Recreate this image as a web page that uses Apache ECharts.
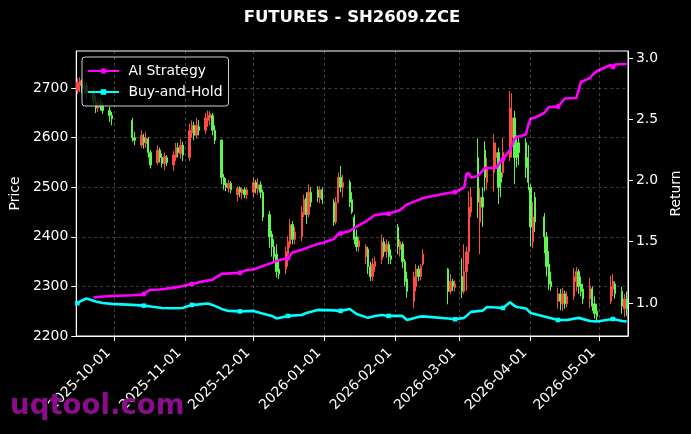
<!DOCTYPE html>
<html><head><meta charset="utf-8">
<script src="https://cdn.jsdelivr.net/npm/echarts@6/dist/echarts.min.js"></script>
<style>html,body{margin:0;padding:0;background:#000;}#c{width:691px;height:434px;}</style>
</head><body><div id="c"></div>
<script>
// ---- data ----
const tradeDates = [
'2025-09-15','2025-09-16','2025-09-17','2025-09-18','2025-09-19','2025-09-22','2025-09-23','2025-09-24','2025-09-25','2025-09-26','2025-09-29','2025-09-30',
'2025-10-09','2025-10-10','2025-10-13','2025-10-14','2025-10-15','2025-10-16','2025-10-17','2025-10-20','2025-10-21','2025-10-22','2025-10-23','2025-10-24','2025-10-27','2025-10-28','2025-10-29','2025-10-30','2025-10-31',
'2025-11-03','2025-11-04','2025-11-05','2025-11-06','2025-11-07','2025-11-10','2025-11-11','2025-11-12','2025-11-13','2025-11-14','2025-11-17','2025-11-18','2025-11-19','2025-11-20','2025-11-21','2025-11-24','2025-11-25','2025-11-26','2025-11-27','2025-11-28',
'2025-12-01','2025-12-02','2025-12-03','2025-12-04','2025-12-05','2025-12-08','2025-12-09','2025-12-10','2025-12-11','2025-12-12','2025-12-15','2025-12-16','2025-12-17','2025-12-18','2025-12-19','2025-12-22','2025-12-23','2025-12-24','2025-12-25','2025-12-26','2025-12-29','2025-12-30','2025-12-31',
'2026-01-05','2026-01-06','2026-01-07','2026-01-08','2026-01-09','2026-01-12','2026-01-13','2026-01-14','2026-01-15','2026-01-16','2026-01-19','2026-01-20','2026-01-21','2026-01-22','2026-01-23','2026-01-26','2026-01-27','2026-01-28','2026-01-29','2026-01-30',
'2026-02-02','2026-02-03','2026-02-04','2026-02-05','2026-02-06','2026-02-09','2026-02-10','2026-02-11','2026-02-12','2026-02-13','2026-02-24','2026-02-25','2026-02-26','2026-02-27',
'2026-03-02','2026-03-03','2026-03-04','2026-03-05','2026-03-06','2026-03-09','2026-03-10','2026-03-11','2026-03-12','2026-03-13','2026-03-16','2026-03-17','2026-03-18','2026-03-19','2026-03-20','2026-03-23','2026-03-24','2026-03-25','2026-03-26','2026-03-27','2026-03-30','2026-03-31',
'2026-04-01','2026-04-02','2026-04-03','2026-04-07','2026-04-08','2026-04-09','2026-04-10','2026-04-13','2026-04-14','2026-04-15','2026-04-16','2026-04-17','2026-04-20','2026-04-21','2026-04-22','2026-04-23','2026-04-24','2026-04-27','2026-04-28','2026-04-29','2026-04-30',
'2026-05-06','2026-05-07','2026-05-08','2026-05-11','2026-05-12','2026-05-13'];

const opens = [
2695,2705,2712,2700,2705,2690,2672,2660,2670,2665,2655,2645,
2635,2600,2585,2600,2588,2598,2570,2550,2575,2560,2548,2560,2545,2560,2580,2568,2585,
2560,2610,2625,2605,2622,2615,2635,2640,2645,2615,2595,2520,2508,2498,2508,2485,2498,2488,2495,2485,
2490,2510,2495,2505,2490,2445,2405,2380,2365,2335,2335,2365,2385,2425,2395,2400,2445,2478,2445,2490,2495,2478,2495,
2470,2430,2470,2520,2500,2510,2475,2440,2400,2380,2360,2375,2340,2320,2340,2355,2390,2370,2385,2362,
2420,2375,2385,2350,2315,2270,2300,2335,2320,2345,2335,2290,2310,2298,
2320,2290,2330,2370,2450,2560,2430,2480,2575,2510,2530,2560,2570,2530,2530,2560,2600,2640,2590,2590,2590,2560,
2500,2390,2480,2440,2400,2345,2310,2270,2285,2265,2285,2265,2280,2310,2330,2305,2295,2275,2295,2265,2250,
2270,2295,2305,2290,2255,2275];
const closes = [
2712,2715,2700,2705,2690,2675,2660,2672,2662,2655,2645,2638,
2600,2595,2605,2590,2600,2570,2545,2575,2560,2548,2562,2550,2565,2580,2570,2585,2565,
2615,2625,2605,2625,2615,2640,2645,2648,2615,2595,2520,2505,2500,2508,2495,2498,2490,2496,2485,2495,
2510,2498,2505,2490,2440,2400,2380,2360,2330,2325,2370,2390,2425,2395,2410,2450,2475,2445,2490,2470,2480,2495,2475,
2430,2470,2520,2500,2510,2470,2450,2395,2380,2392,2380,2340,2320,2345,2350,2390,2370,2385,2360,2355,
2380,2390,2350,2310,2290,2320,2335,2320,2340,2365,2290,2310,2300,2305,
2290,2330,2370,2460,2480,2470,2480,2460,2520,2540,2590,2570,2500,2510,2570,2660,2640,2560,2560,2570,2540,2510,
2420,2440,2430,2400,2340,2305,2300,2285,2270,2285,2265,2280,2320,2330,2300,2290,2275,2300,2260,2245,2240,
2300,2310,2285,2260,2275,2255];
const lows = [
2688,2692,2690,2688,2680,2668,2650,2652,2655,2648,2632,2625,
2592,2585,2580,2578,2580,2560,2538,2545,2550,2540,2535,2543,2533,2553,2560,2558,2553,
2553,2600,2595,2598,2605,2608,2622,2625,2605,2587,2506,2495,2492,2490,2488,2472,2480,2476,2478,2476,
2480,2488,2485,2478,2432,2378,2360,2350,2318,2315,2325,2340,2378,2385,2385,2391,2440,2426,2440,2460,2470,2468,2466,
2422,2425,2468,2490,2480,2460,2446,2385,2371,2370,2345,2325,2311,2311,2330,2345,2360,2358,2345,2345,
2365,2360,2337,2300,2277,2256,2290,2311,2312,2341,2264,2285,2291,2290,
2277,2285,2291,2345,2440,2438,2365,2420,2492,2495,2492,2540,2466,2480,2520,2553,2560,2506,2540,2545,2519,2494,
2380,2377,2410,2367,2320,2293,2291,2255,2252,2250,2255,2258,2273,2290,2285,2280,2265,2256,2250,2235,2230,
2264,2280,2275,2245,2238,2240];
const highs = [
2720,2722,2718,2715,2712,2700,2685,2680,2678,2672,2662,2652,
2640,2612,2615,2608,2612,2602,2575,2585,2580,2568,2570,2565,2573,2590,2590,2597,2592,
2628,2635,2632,2640,2636,2650,2655,2654,2650,2625,2597,2527,2518,2515,2512,2502,2502,2500,2500,2500,
2520,2515,2518,2512,2495,2452,2412,2395,2385,2355,2380,2401,2436,2432,2420,2462,2485,2490,2506,2500,2502,2502,2500,
2476,2480,2530,2543,2525,2515,2490,2445,2415,2400,2385,2380,2350,2357,2360,2405,2398,2395,2391,2375,
2426,2395,2390,2355,2330,2330,2345,2342,2345,2375,2337,2325,2315,2312,
2357,2385,2380,2492,2500,2599,2498,2500,2593,2560,2607,2590,2580,2553,2600,2694,2690,2654,2605,2600,2599,2585,
2506,2470,2490,2448,2410,2371,2330,2297,2295,2297,2292,2290,2337,2339,2335,2320,2305,2317,2300,2280,2265,
2321,2325,2310,2299,2285,2290];

const aiDates = ['2025-09-22','2025-09-25','2025-09-30','2025-10-09','2025-10-13','2025-10-14','2025-10-16','2025-10-17','2025-10-21','2025-10-28','2025-10-31',
'2025-11-03','2025-11-04','2025-11-10','2025-11-13','2025-11-17','2025-11-25','2025-11-28','2025-12-01','2025-12-05','2025-12-09','2025-12-11','2025-12-15','2025-12-16','2025-12-18','2025-12-23','2025-12-29','2025-12-31',
'2026-01-05','2026-01-07','2026-01-08','2026-01-12','2026-01-14','2026-01-19','2026-01-23','2026-01-27','2026-01-29','2026-02-03','2026-02-06','2026-02-10','2026-02-13','2026-02-24','2026-02-27',
'2026-03-02','2026-03-03','2026-03-04','2026-03-05','2026-03-06','2026-03-09','2026-03-11','2026-03-12','2026-03-17','2026-03-19','2026-03-20','2026-03-23','2026-03-25','2026-03-26','2026-03-30','2026-03-31',
'2026-04-01','2026-04-02','2026-04-03','2026-04-07','2026-04-09','2026-04-13','2026-04-16','2026-04-21','2026-04-23','2026-04-27','2026-04-28','2026-04-30',
'2026-05-06','2026-05-07','2026-05-08','2026-05-13'];
const aiValues = [1.045,1.05,1.057,1.063,1.068,1.073,1.10,1.106,1.11,1.127,1.138,
1.151,1.155,1.18,1.19,1.237,1.247,1.27,1.273,1.302,1.327,1.343,1.363,1.367,1.412,1.441,1.482,1.49,
1.522,1.563,1.566,1.588,1.612,1.665,1.718,1.727,1.729,1.759,1.804,1.833,1.857,1.898,1.906,
1.931,1.943,2.053,2.061,2.024,2.037,2.078,2.102,2.102,2.159,2.176,2.249,2.339,2.355,2.376,2.453,
2.502,2.51,2.514,2.551,2.60,2.604,2.669,2.673,2.804,2.837,2.861,2.894,
2.943,2.927,2.947,2.951];

const bhDates = ['2025-09-15','2025-09-17','2025-09-19','2025-09-23','2025-09-26','2025-09-30','2025-10-09','2025-10-14','2025-10-17','2025-10-22','2025-10-27','2025-10-31',
'2025-11-04','2025-11-07','2025-11-11','2025-11-13','2025-11-17','2025-11-20','2025-11-25','2025-12-01','2025-12-04','2025-12-09','2025-12-11','2025-12-16','2025-12-22','2025-12-24','2025-12-29',
'2026-01-05','2026-01-08','2026-01-12','2026-01-15','2026-01-20','2026-01-23','2026-01-26','2026-01-29','2026-02-04','2026-02-06','2026-02-11','2026-02-13','2026-02-24','2026-02-27',
'2026-03-03','2026-03-06','2026-03-11','2026-03-13','2026-03-17','2026-03-20','2026-03-23','2026-03-25','2026-03-26','2026-03-30',
'2026-04-01','2026-04-07','2026-04-13','2026-04-17','2026-04-22','2026-04-27','2026-04-30','2026-05-07','2026-05-11','2026-05-13'];
const bhValues = [0.998,1.02,1.037,1.012,1.0,0.992,0.984,0.978,0.971,0.959,0.957,0.959,
0.984,0.988,0.996,0.984,0.951,0.935,0.931,0.935,0.918,0.894,0.873,0.894,0.902,0.918,0.943,
0.939,0.935,0.951,0.91,0.878,0.894,0.902,0.894,0.894,0.861,0.886,0.89,0.873,0.867,
0.878,0.927,0.937,0.967,0.963,0.959,1.006,0.976,0.967,0.955,
0.918,0.89,0.861,0.861,0.878,0.853,0.849,0.869,0.853,0.849];

const markerDates = ['2025-09-15','2025-10-14','2025-11-04','2025-11-25','2025-12-16','2026-01-08','2026-01-29','2026-02-27','2026-03-20','2026-04-13','2026-05-07'];
const monthTicks = ['2025-10-01','2025-11-01','2025-12-01','2026-01-01','2026-02-01','2026-03-01','2026-04-01','2026-05-01'];
const priceTicks = [2200,2300,2400,2500,2600,2700];
const returnTicks = [1.0,1.5,2.0,2.5,3.0];

// ---- helpers ----
const ts = s => { const p = s.split('-').map(Number); return Date.UTC(p[0], p[1]-1, p[2]); };
const HOUR = 3600000;
const xMin = ts('2025-09-14') + 12*HOUR;
const xMax = ts('2026-05-13') + 14*HOUR;
const fmtDate = v => { const d = new Date(v); return d.getUTCFullYear() + '-' + String(d.getUTCMonth()+1).padStart(2,'0') + '-' + String(d.getUTCDate()).padStart(2,'0'); };
const candleData = tradeDates.map((d,i) => [ts(d), opens[i], closes[i], lows[i], highs[i]]);
const lineData = (dates, vals, sym, size) => dates.map((d,i) => ({
  value: [ts(d), vals[i]],
  symbol: markerDates.indexOf(d) >= 0 ? sym : 'none',
  symbolSize: size
}));

const FONT = 'DejaVu Sans';
const RED = '#ff4c42', GREEN = '#5cf552';
const GRID = 'rgba(255,255,255,0.3)';
const chart = echarts.init(document.getElementById('c'), null, {renderer: 'canvas'});
chart.setOption({
  backgroundColor: '#000',
  animation: false,
  textStyle: {fontFamily: FONT},
  title: {text: 'FUTURES - SH2609.ZCE', left: 352, top: 9, textAlign: 'center', padding: 0,
    textStyle: {color: '#fff', fontSize: 16.5, fontWeight: 'bold', fontFamily: FONT}},
  legend: {
    data: ['AI Strategy', 'Buy-and-Hold'], orient: 'vertical', left: 82, top: 57,
    padding: [6, 6, 6, 5], itemGap: 5, itemWidth: 31, itemHeight: 7,
    backgroundColor: 'rgba(0,0,0,0.8)', borderColor: '#cccccc', borderWidth: 1, borderRadius: 3,
    textStyle: {color: '#fff', fontSize: 13.9, lineHeight: 16, fontFamily: FONT},
    formatter: n => ' ' + n
  },
  grid: {left: 75, right: 61, top: 51, bottom: 98, show: true, borderColor: '#fff', borderWidth: 1},
  xAxis: {
    type: 'value', min: xMin, max: xMax, scale: true,
    axisLine: {show: true, lineStyle: {color: '#fff'}},
    axisTick: {show: true, length: 5, lineStyle: {color: '#fff'}, customValues: monthTicks.map(ts)},
    axisLabel: {color: '#fff', fontSize: 13.9, rotate: 45, margin: 9, padding: [0, 8, 0, 0],
      customValues: monthTicks.map(ts), formatter: fmtDate, fontFamily: FONT},
    splitLine: {show: false}
  },
  yAxis: [{
    type: 'value', min: 2200, max: 2775, interval: 100, position: 'left',
    name: 'Price', nameLocation: 'middle', nameGap: 48, nameRotate: 90,
    nameTextStyle: {color: '#fff', fontSize: 13.9, fontFamily: FONT},
    axisLine: {show: true, lineStyle: {color: '#fff'}},
    axisTick: {show: true, length: 5, lineStyle: {color: '#fff'}, customValues: priceTicks},
    axisLabel: {color: '#fff', fontSize: 13.9, margin: 8, customValues: priceTicks, formatter: v => String(v), fontFamily: FONT},
    splitLine: {show: true, lineStyle: {color: GRID, type: [3, 3], width: 0.8}}
  }, {
    type: 'value', min: 0.73, max: 3.057, position: 'right',
    name: 'Return', nameLocation: 'middle', nameGap: 38, nameRotate: 90,
    nameTextStyle: {color: '#fff', fontSize: 13.9, fontFamily: FONT},
    axisLine: {show: true, lineStyle: {color: '#fff'}},
    axisTick: {show: true, length: 5, lineStyle: {color: '#fff'}, customValues: returnTicks},
    axisLabel: {color: '#fff', fontSize: 13.9, margin: 8, customValues: returnTicks, formatter: v => v.toFixed(1), fontFamily: FONT},
    splitLine: {show: false}
  }],
  series: [{
    type: 'candlestick', name: 'Price', xAxisIndex: 0, yAxisIndex: 0,
    data: candleData, encode: {x: 0, y: [1, 2, 3, 4]},
    barWidth: 1.8,
    itemStyle: {color: RED, color0: GREEN, borderColor: RED, borderColor0: GREEN, borderWidth: 1},
    markLine: {silent: true, symbol: ['none', 'none'], label: {show: false},
      lineStyle: {color: GRID, type: [3, 3], width: 0.8},
      emphasis: {disabled: true},
      data: monthTicks.map(d => ({xAxis: ts(d)}))},
    z: 2
  }, {
    type: 'line', name: 'AI Strategy', xAxisIndex: 0, yAxisIndex: 1,
    data: lineData(aiDates, aiValues, 'circle', 5),
    symbol: 'circle', symbolSize: 5, showSymbol: true,
    lineStyle: {color: '#ff00ff', width: 2.6}, itemStyle: {color: '#ff00ff'}, z: 4
  }, {
    type: 'line', name: 'Buy-and-Hold', xAxisIndex: 0, yAxisIndex: 1,
    data: lineData(bhDates, bhValues, 'rect', 4.5),
    symbol: 'rect', symbolSize: 4.5, showSymbol: true,
    lineStyle: {color: '#00ffff', width: 2.6}, itemStyle: {color: '#00ffff'}, z: 3
  }],
  graphic: [{type: 'text', left: 10, top: 393, z: 100,
    style: {text: 'uqtool.com', fill: '#8b0d8b', font: 'bold 27.6px "DejaVu Sans"'}}]
});
</script></body></html>
